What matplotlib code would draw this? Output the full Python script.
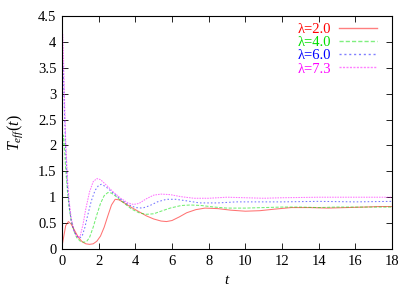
import numpy as np
import matplotlib
matplotlib.use("Agg")
import matplotlib.pyplot as plt

# readings taken off the curves, (t, T_eff)
t_l20 = [0.0, 0.1, 0.2, 0.35, 0.5, 0.7, 0.9, 1.1, 1.3, 1.5, 1.7, 1.9, 2.1, 2.3, 2.5,
         2.7, 2.9, 3.1, 3.4, 3.8, 4.2, 4.6, 5.0, 5.4, 5.7, 6.0, 6.4, 6.8, 7.3, 7.8,
         8.5, 9.2, 10.0, 10.8, 11.6, 12.5, 13.5, 14.5, 15.5, 16.5, 17.3, 18.0]
y_l20 = [0.05, 0.25, 0.45, 0.53, 0.48, 0.35, 0.22, 0.14, 0.10, 0.09, 0.10, 0.15, 0.25,
         0.42, 0.64, 0.85, 0.96, 0.95, 0.89, 0.80, 0.72, 0.64, 0.58, 0.54, 0.53, 0.55,
         0.62, 0.70, 0.76, 0.79, 0.78, 0.75, 0.73, 0.74, 0.77, 0.80, 0.80, 0.79, 0.80,
         0.81, 0.82, 0.82]

t_l40 = [0.03, 0.08, 0.13, 0.2, 0.3, 0.4, 0.5, 0.65, 0.8, 1.0, 1.2, 1.35, 1.5, 1.7, 1.9,
         2.1, 2.3, 2.5, 2.7, 3.0, 3.4, 3.8, 4.2, 4.6, 5.0, 5.4, 5.9, 6.5, 7.0, 7.6,
         8.3, 9.0, 10.0, 11.0, 12.0, 13.0, 14.0, 15.0, 16.0, 17.0, 18.0]
y_l40 = [1.9, 2.2, 2.0, 1.55, 1.1, 0.78, 0.55, 0.35, 0.22, 0.15, 0.13, 0.15, 0.22,
         0.42, 0.66, 0.88, 1.03, 1.09, 1.08, 1.00, 0.88, 0.77, 0.70, 0.67, 0.68, 0.73,
         0.79, 0.84, 0.85, 0.84, 0.81, 0.79, 0.79, 0.80, 0.81, 0.81, 0.80, 0.81, 0.81,
         0.81, 0.81]

t_l60 = [0.05, 0.09, 0.13, 0.2, 0.3, 0.4, 0.5, 0.65, 0.8, 0.95, 1.1, 1.25, 1.4, 1.6,
         1.8, 2.0, 2.15, 2.4, 2.8, 3.2, 3.6, 4.0, 4.4, 4.8, 5.2, 5.7, 6.2, 6.8, 7.5,
         8.5, 9.5, 10.5, 12.0, 14.0, 16.0, 18.0]
y_l60 = [3.6, 3.2, 2.7, 1.9, 1.2, 0.8, 0.55, 0.35, 0.25, 0.21, 0.25, 0.42, 0.65, 0.93,
         1.13, 1.23, 1.25, 1.20, 1.08, 0.96, 0.86, 0.80, 0.79, 0.84, 0.91, 0.96, 0.96,
         0.93, 0.89, 0.89, 0.91, 0.91, 0.91, 0.92, 0.91, 0.92]

t_l73 = [0.04, 0.09, 0.13, 0.2, 0.3, 0.4, 0.5, 0.65, 0.8, 0.9, 1.0, 1.15, 1.3, 1.5, 1.7,
         1.9, 2.1, 2.4, 2.8, 3.2, 3.6, 3.9, 4.2, 4.6, 5.0, 5.4, 5.9, 6.5, 7.2, 8.0,
         9.0, 10.0, 11.0, 12.0, 14.0, 16.0, 18.0]
y_l73 = [4.15, 3.6, 3.0, 2.1, 1.35, 0.9, 0.6, 0.36, 0.25, 0.22, 0.26, 0.48, 0.78, 1.1,
         1.30, 1.36, 1.34, 1.24, 1.10, 0.98, 0.89, 0.86, 0.88, 0.97, 1.04, 1.06, 1.05,
         1.01, 0.98, 0.98, 1.00, 0.99, 0.98, 0.99, 1.00, 1.00, 1.00]

labels = ["\u03bb=2.0", "\u03bb=4.0", "\u03bb=6.0", "\u03bb=7.3"]
xticks = np.arange(0, 19, 2)
yticks = np.arange(0, 4.51, 0.5)

plt.rcParams["font.family"] = ["Liberation Serif", "DejaVu Serif"]
plt.rcParams["mathtext.fontset"] = "custom"
plt.rcParams["mathtext.it"] = "Liberation Serif:italic"
plt.rcParams["mathtext.rm"] = "Liberation Serif"

fig = plt.figure(figsize=(4.15, 2.91), dpi=100)
ax = fig.add_axes([62 / 415, 1 - 249 / 291, 330 / 415, 233 / 291])

colors = ["#ff0000", "#00e000", "#0000ff", "#ff00ff"]
styles = ["-", (0, (3, 1.5)), (0, (1.5, 2)), (0, (1.5, 1))]
data = [(t_l20, y_l20), (t_l40, y_l40), (t_l60, y_l60), (t_l73, y_l73)]
for (t, y), c, ls, lab in zip(data, colors, styles, labels):
    ax.plot(t, y, color=c, ls=ls, lw=0.75, alpha=0.55, label=lab)

ax.set_xlim(0, 18)
ax.set_ylim(0, 4.5)
ax.set_xticks(xticks)
ax.set_yticks(yticks)
ax.set_yticklabels([("%g" % v) for v in yticks])
ax.tick_params(direction="in", top=True, right=True, length=4, width=0.6,
               labelsize=10.5, pad=4)
for s in ax.spines.values():
    s.set_linewidth(0.8)

ax.set_xlabel("$t$", fontsize=11, labelpad=5)
ax.set_ylabel("$T_{eff}(t)$", fontsize=11.5, labelpad=9)

leg = ax.legend(loc="upper right", frameon=False, markerfirst=False,
                fontsize=10.5, handlelength=2.6,
                handletextpad=0.55, labelspacing=0.0, borderaxespad=0.3,
                bbox_to_anchor=(0.985, 1.015))
for txt, h, c in zip(leg.get_texts(), leg.legend_handles, colors):
    txt.set_color(c)
    h.set_color(c)
    h.set_alpha(0.5)
    h.set_linewidth(1.0)

fig.savefig("out.png", dpi=100)
